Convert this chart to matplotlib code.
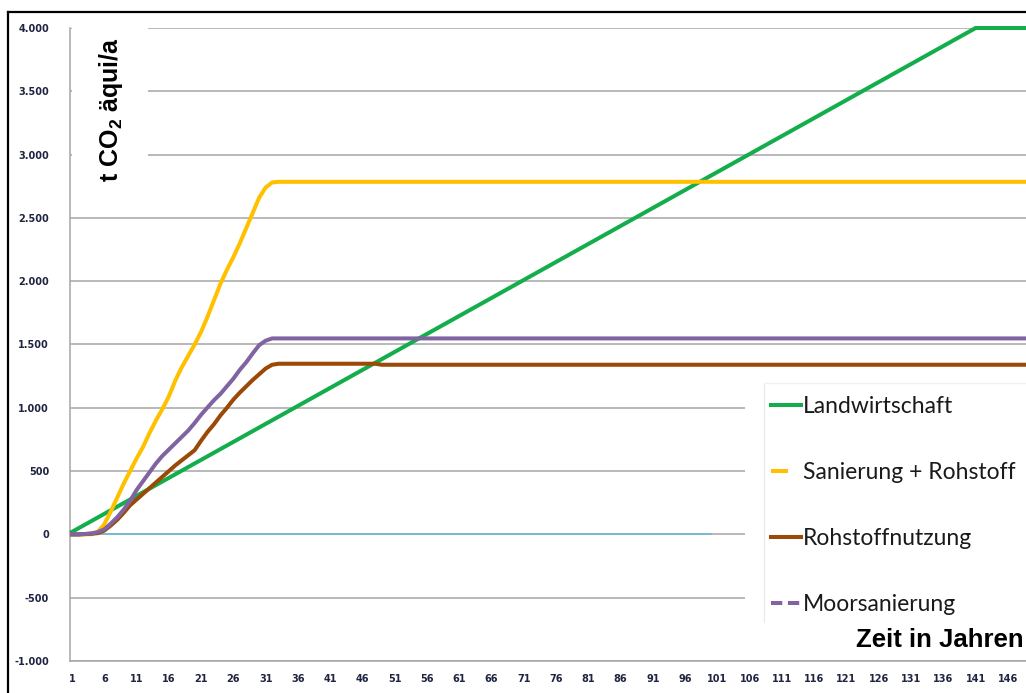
import matplotlib
matplotlib.use("Agg")
import matplotlib.pyplot as plt
from matplotlib.lines import Line2D
from matplotlib.patches import Rectangle

plt.rcParams["font.family"] = ["DejaVu Sans"]
plt.rcParams["mathtext.fontset"] = "custom"
plt.rcParams["mathtext.bf"] = "Liberation Sans:bold"
plt.rcParams["mathtext.rm"] = "Liberation Sans:bold"

# --- Daten ---
green_years = [1, 141, 150]
green_vals = [20, 4000, 4000]

yellow_years = list(range(1, 34)) + [150]
yellow_vals = [0, 0, 0, 2, 20, 80, 180, 290, 400, 500, 600, 690, 800, 900, 990,
               1090, 1215, 1320, 1410, 1500, 1600, 1720, 1850, 1980, 2090, 2190,
               2300, 2420, 2540, 2660, 2740, 2780, 2785, 2785]

brown_years = list(range(1, 34)) + [48, 49, 150]
brown_vals = [0, 0, 3, 5, 10, 30, 70, 115, 170, 230, 275, 320, 365, 410, 455,
              500, 545, 585, 625, 665, 740, 810, 870, 940, 1000, 1065, 1120,
              1170, 1220, 1265, 1310, 1340, 1348, 1348, 1340, 1340]

purple_years = list(range(1, 33)) + [150]
purple_vals = [0, 0, 3, 8, 18, 40, 85, 135, 195, 265, 350, 420, 490, 560, 620,
               670, 720, 770, 820, 880, 945, 1003, 1060, 1110, 1170, 1230, 1300,
               1360, 1430, 1495, 1530, 1548, 1548]

zero_years = [1, 100]
zero_vals = [0, 0]

labels = ["Landwirtschaft", "Sanierung + Rohstoff", "Rohstoffnutzung", "Moorsanierung"]
colors = ["#13ad4c", "#ffc000", "#9a4a06", "#8064a2"]

xtick_years = list(range(1, 147, 5))
ytick_vals = list(range(-1000, 4001, 500))

W, H = 1026, 693
fig = plt.figure(figsize=(W / 100, H / 100), dpi=100)
ax = fig.add_axes([70 / W, (H - 661) / H, 1 - 70 / W, (661 - 28) / H])

ax.set_xlim(0.69, 148.8)
ax.set_ylim(-1000, 4000)

ax.set_yticks(ytick_vals)
ax.set_yticklabels([f"{v:,}".replace(",", ".") for v in ytick_vals])
ax.set_xticks(xtick_years)
ax.set_xticklabels([str(v) for v in xtick_years])
ax.tick_params(axis="both", length=0, labelsize=7, labelcolor="#1f2440")
ax.tick_params(axis="y", pad=15)
ax.tick_params(axis="x", pad=9)
for lab in ax.get_xticklabels() + ax.get_yticklabels():
    lab.set_fontweight("bold")

ax.grid(axis="y", color="#a6a6a6", linewidth=1.1)
ax.set_axisbelow(True)
for s in ["top", "right"]:
    ax.spines[s].set_visible(False)
for s in ["left", "bottom"]:
    ax.spines[s].set_color("#a6a6a6")
    ax.spines[s].set_linewidth(1.1)

# weisser Bereich hinter der Achsenbeschriftung
ax.add_patch(Rectangle((0.002, 0.728), 0.0795, 0.3, transform=ax.transAxes,
                       facecolor="white", edgecolor="none", zorder=1.8, clip_on=False))

lw = 2.9
ax.plot(zero_years, zero_vals, color="#74b9d6", linewidth=1.3, zorder=2)
ax.plot(green_years, green_vals, color=colors[0], linewidth=lw, clip_on=False, zorder=3)
ax.plot(yellow_years, yellow_vals, color=colors[1], linewidth=lw, clip_on=False, zorder=3)
ax.plot(brown_years, brown_vals, color=colors[2], linewidth=lw, clip_on=False, zorder=3)
ax.plot(purple_years, purple_vals, color=colors[3], linewidth=lw, clip_on=False, zorder=3)

# weisser Hintergrund der Legende
fig.add_artist(Rectangle((745 / W, (H - 624) / H), 290 / W, 241 / H,
                         transform=fig.transFigure, facecolor="white",
                         edgecolor="none", zorder=5))

handles = [
    Line2D([], [], color=colors[0], linewidth=lw),
    Line2D([], [], color=colors[1], linewidth=lw, dashes=[4.2, 5]),
    Line2D([], [], color=colors[2], linewidth=lw),
    Line2D([], [], color=colors[3], linewidth=lw, dashes=[2.8, 1.4]),
]
leg = fig.legend(handles, labels, loc="upper left",
                 bbox_to_anchor=(758 / W, (H - 383) / H), borderaxespad=0,
                 prop={"family": "Lato", "size": 16.5}, frameon=True,
                 fancybox=False, handlelength=1.3, handletextpad=0.1,
                 labelspacing=1.96, borderpad=0.56)
leg.get_frame().set_facecolor("white")
leg.get_frame().set_edgecolor("none")
for t in leg.get_texts():
    t.set_color("#1a1a1a")
leg.set_zorder(10)

# feine Kante der Legende
fig.add_artist(Line2D([764 / W, 764 / W], [1 - 622 / H, 1 - 383 / H],
                      color="#ecece4", linewidth=1.0, zorder=11))
fig.add_artist(Line2D([764 / W, 1], [1 - 383 / H, 1 - 383 / H],
                      color="#f2f2ec", linewidth=1.0, zorder=11))

fig.text(111 / W, 1 - 110 / H, r"t CO$_{\mathbf{2}}$ äqui/a", rotation=90,
         ha="center", va="center", fontsize=18, fontweight="bold",
         family="Liberation Sans")
fig.text(1024 / W, 1 - 640 / H, "Zeit in Jahren", ha="right", va="center",
         fontsize=18.5, fontweight="bold", family="Liberation Sans", zorder=12)

# schwarzer Rahmen oben und links
fig.add_artist(Line2D([8 / W, 8 / W], [0, 1 - 12 / H], color="black", linewidth=1.6))
fig.add_artist(Line2D([8 / W, 1], [1 - 12 / H, 1 - 12 / H], color="black", linewidth=1.6))

fig.savefig("out.png", dpi=100)
